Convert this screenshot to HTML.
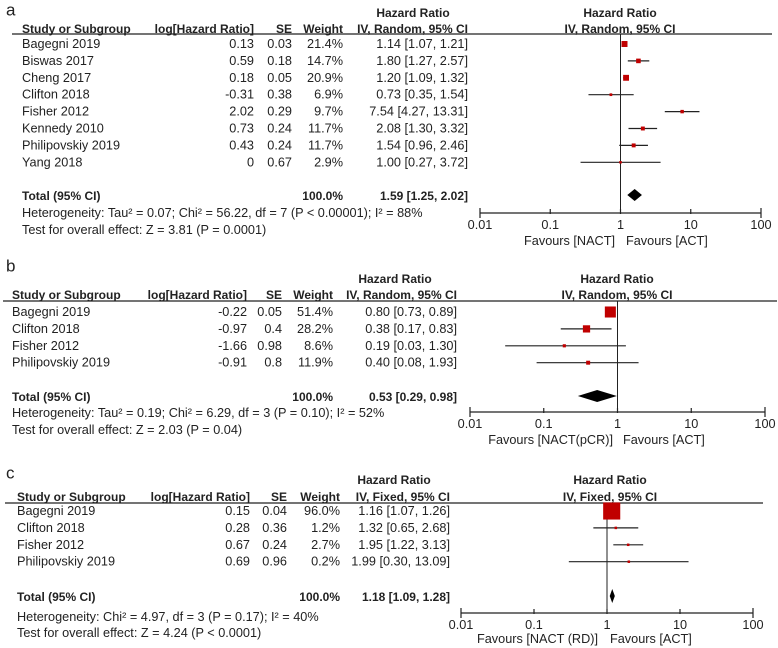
<!DOCTYPE html>
<html><head><meta charset="utf-8"><style>
html,body{margin:0;padding:0;background:#fff;}
svg{display:block;font-family:"Liberation Sans",Arial,sans-serif;}
text{fill:#222;font-size:12.7px;}
text.b{font-weight:bold;font-size:12px;}
</style></head><body>
<svg id="fig" width="778" height="648" viewBox="0 0 778 648"></svg>
<script>
// ---- Panel a data ----
const aStudies=["Bagegni 2019","Biswas 2017","Cheng 2017","Clifton 2018","Fisher 2012","Kennedy 2010","Philipovskiy 2019","Yang 2018"];
const aLogHR=["0.13","0.59","0.18","-0.31","2.02","0.73","0.43","0"];
const aSE=["0.03","0.18","0.05","0.38","0.29","0.24","0.24","0.67"];
const aWeight=[21.4,14.7,20.9,6.9,9.7,11.7,11.7,2.9];
const aHR=[1.14,1.80,1.20,0.73,7.54,2.08,1.54,1.00];
const aLo=[1.07,1.27,1.09,0.35,4.27,1.30,0.96,0.27];
const aHi=[1.21,2.57,1.32,1.54,13.31,3.32,2.46,3.72];
const aTotal=[1.59,1.25,2.02];
// ---- Panel b data ----
const bStudies=["Bagegni 2019","Clifton 2018","Fisher 2012","Philipovskiy 2019"];
const bLogHR=["-0.22","-0.97","-1.66","-0.91"];
const bSE=["0.05","0.4","0.98","0.8"];
const bWeight=[51.4,28.2,8.6,11.9];
const bHR=[0.80,0.38,0.19,0.40];
const bLo=[0.73,0.17,0.03,0.08];
const bHi=[0.89,0.83,1.30,1.93];
const bTotal=[0.53,0.29,0.98];
// ---- Panel c data ----
const cStudies=["Bagegni 2019","Clifton 2018","Fisher 2012","Philipovskiy 2019"];
const cLogHR=["0.15","0.28","0.67","0.69"];
const cSE=["0.04","0.36","0.24","0.96"];
const cWeight=[96.0,1.2,2.7,0.2];
const cHR=[1.16,1.32,1.95,1.99];
const cLo=[1.07,0.65,1.22,0.30];
const cHi=[1.26,2.68,3.13,13.09];
const cTotal=[1.18,1.09,1.28];
const tickVals=[0.01,0.1,1,10,100];
const tickLabels=["0.01","0.1","1","10","100"];

const NS="http://www.w3.org/2000/svg";
const svg=document.getElementById('fig');
function mk(tag,attrs,parent){const e=document.createElementNS(NS,tag);for(const k in attrs)e.setAttribute(k,attrs[k]);(parent||svg).appendChild(e);return e;}
function txt(x,y,s,anchor,bold,parent,size){const t=mk('text',{x:x,y:y,'text-anchor':anchor||'start','dominant-baseline':'central'},parent);if(bold)t.setAttribute('class','b');if(size)t.style.fontSize=size+'px';t.textContent=s;return t;}
function f2(v){return v.toFixed(2);}

const panels=[
 {id:'a',studies:aStudies,log:aLogHR,se:aSE,w:aWeight,hr:aHR,lo:aLo,hi:aHi,tot:aTotal,method:'IV, Random, 95% CI',
  label:[6,10],nameX:22,logR:254,seR:292,wR:343,ciR:468,hdrC:413,hdr1:13,hdr2:29,lineY:34,lineX0:12,lineX1:772,
  row0:44,step:16.9,totY:196,hetY:213,testY:230,axY:213,ax0:480,ax1:761,plotC:620,favY:241,favL:'Favours [NACT]',favLx:615,favRx:626,
  het:'Heterogeneity: Tau² = 0.07; Chi² = 56.22, df = 7 (P < 0.00001); I² = 88%',test:'Test for overall effect: Z = 3.81 (P = 0.0001)',dh:6},
 {id:'b',studies:bStudies,log:bLogHR,se:bSE,w:bWeight,hr:bHR,lo:bLo,hi:bHi,tot:bTotal,method:'IV, Random, 95% CI',
  label:[6,266],nameX:12,logR:247,seR:282,wR:333,ciR:457,hdrC:395,hdr1:279,hdr2:295,lineY:301,lineX0:3,lineX1:777,
  row0:312,step:16.9,totY:397,hetY:413,testY:430,axY:412,ax0:470,ax1:765,plotC:617,favY:440,favL:'Favours [NACT(pCR)]',favLx:613,favRx:623,
  het:'Heterogeneity: Tau² = 0.19; Chi² = 6.29, df = 3 (P = 0.10); I² = 52%',test:'Test for overall effect: Z = 2.03 (P = 0.04)',dh:6},
 {id:'c',studies:cStudies,log:cLogHR,se:cSE,w:cWeight,hr:cHR,lo:cLo,hi:cHi,tot:cTotal,method:'IV, Fixed, 95% CI',
  label:[6,473],nameX:17,logR:250,seR:287,wR:340,ciR:450,hdrC:394,hdr1:480,hdr2:497,lineY:503,lineX0:5,lineX1:763,
  row0:511,step:16.9,totY:597,hetY:617,testY:633,axY:613,ax0:461,ax1:753,plotC:610,favY:639,favL:'Favours [NACT (RD)]',favLx:598,favRx:610,
  het:'Heterogeneity: Chi² = 4.97, df = 3 (P = 0.17); I² = 40%',test:'Test for overall effect: Z = 4.24 (P < 0.0001)',dh:7}
];

panels.forEach(p=>{
  const g=mk('g',{});
  
  
  const xs=v=>p.ax0+(Math.log10(v)+2)/4*(p.ax1-p.ax0);
  const lab=txt(p.label[0],p.label[1],p.id,'start',false,g,17);
  
  
  txt(p.hdrC,p.hdr1,'Hazard Ratio','middle',true,g);
  txt(p.plotC,p.hdr1,'Hazard Ratio','middle',true,g);
  txt(p.nameX,p.hdr2,'Study or Subgroup','start',true,g);
  txt(p.logR,p.hdr2,'log[Hazard Ratio]','end',true,g);
  txt(p.seR,p.hdr2,'SE','end',true,g);
  txt(p.wR,p.hdr2,'Weight','end',true,g);
  txt(p.ciR,p.hdr2,p.method,'end',true,g);
  txt(p.plotC,p.hdr2,p.method,'middle',true,g);
  const hl=mk('line',{x1:p.lineX0,x2:p.lineX1,y1:p.lineY,y2:p.lineY,stroke:'#222','stroke-width':1.3},g);
  
  
  const nl=mk('line',{x1:xs(1),x2:xs(1),y1:p.lineY,y2:p.axY,stroke:'#222','stroke-width':1},g);
  
  
  p.studies.forEach((s,i)=>{
    const y=p.row0+i*p.step;
    const r=mk('g',{},g);
    
    
    txt(p.nameX,y,s,'start',false,r);
    txt(p.logR,y,p.log[i],'end',false,r);
    txt(p.seR,y,p.se[i],'end',false,r);
    txt(p.wR,y,p.w[i].toFixed(1)+'%','end',false,r);
    txt(p.ciR,y,f2(p.hr[i])+' ['+f2(p.lo[i])+', '+f2(p.hi[i])+']','end',false,r);
    const ci=mk('line',{x1:xs(p.lo[i]),x2:xs(p.hi[i]),y1:y,y2:y,stroke:'#222','stroke-width':1.2},r);
    
    
    const sz=Math.max(2.5,0.7*Math.pow(p.w[i],0.7));
    const sq=mk('rect',{x:xs(p.hr[i])-sz/2,y:y-sz/2,width:sz,height:sz,fill:'#c00000'},r);
    
    
  });
  txt(p.nameX,p.totY,'Total (95% CI)','start',true,g);
  txt(p.wR,p.totY,'100.0%','end',true,g);
  txt(p.ciR,p.totY,f2(p.tot[0])+' ['+f2(p.tot[1])+', '+f2(p.tot[2])+']','end',true,g);
  let lo=xs(p.tot[1]),hi=xs(p.tot[2]),m=xs(p.tot[0]),y=p.totY-1;
  const dm=mk('polygon',{points:`${lo},${y} ${m},${y-p.dh} ${hi},${y} ${m},${y+p.dh}`,fill:'#000'},g);
  
  
  const h=txt(p.nameX,p.hetY,p.het,'start',false,g);
  
  
  const t=txt(p.nameX,p.testY,p.test,'start',false,g);
  
  
  const ax=mk('g',{},g);
  
  
  mk('line',{x1:p.ax0,x2:p.ax1,y1:p.axY,y2:p.axY,stroke:'#222','stroke-width':1.2},ax);
  tickVals.forEach((v,k)=>{
    const x=xs(v);const end=(k===0||k===tickVals.length-1);
    const tk=mk('line',{x1:x,x2:x,y1:p.axY-(end?5:4),y2:p.axY+(end?5:1),stroke:'#222','stroke-width':1.2},ax);
    
    
    txt(x,p.axY+12,tickLabels[k],'middle',false,ax);
  });
  const fl=txt(p.favLx,p.favY,p.favL,'end',false,g);
  
  
  const fr=txt(p.favRx,p.favY,'Favours [ACT]','start',false,g);
  
  
});
</script>
</body></html>
